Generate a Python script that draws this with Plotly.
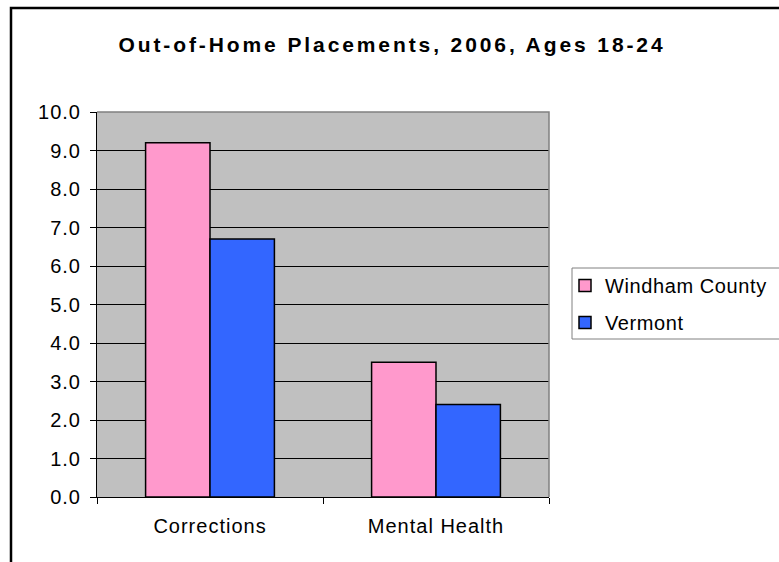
import plotly.graph_objects as go

# Out-of-home placements per 1,000, ages 18-24, 2006
categories = ["Corrections", "Mental Health"]
windham_county = [9.2, 3.5]
vermont = [6.7, 2.4]
y_ticks = [0, 1, 2, 3, 4, 5, 6, 7, 8, 9, 10]

W_FIG, H_FIG = 779, 562
L, R, T, B = 97, 549, 112, 497  # plot area in pixels
PW, PH = R - L, B - T


def px(x):
    return (x - L) / PW


def py(y):
    return (B - y) / PH


FONT = "Liberation Sans, Arial, Helvetica, sans-serif"

fig = go.Figure()
fig.add_trace(go.Bar(
    x=categories, y=windham_county, name="Windham County",
    marker=dict(color="#FF99CC", line=dict(color="black", width=1.5)),
    legendgroup="a",
))
fig.add_trace(go.Bar(
    x=categories, y=vermont, name="Vermont",
    marker=dict(color="#3366FF", line=dict(color="black", width=1.5)),
    legendgroup="b",
))

shapes = [
    # outer chart frame (runs past the right and bottom edges)
    dict(type="rect", xref="paper", yref="paper",
         x0=px(11), x1=px(800), y0=py(580), y1=py(8),
         line=dict(color="black", width=2.5), fillcolor="rgba(0,0,0,0)", layer="above"),
    # grey plot-area border on top and right
    dict(type="path", xref="paper", yref="paper",
         path=f"M {px(L)} {py(T)} L {px(R)} {py(T)} L {px(R)} {py(B)}",
         line=dict(color="#808080", width=1.5), layer="above"),
    # legend frame
    dict(type="rect", xref="paper", yref="paper",
         x0=px(572), x1=px(800), y0=py(339), y1=py(268),
         line=dict(color="#808080", width=1), fillcolor="white", layer="below"),
]

fig.update_layout(
    width=W_FIG, height=H_FIG,
    margin=dict(l=L, r=W_FIG - R, t=T, b=H_FIG - B, pad=0),
    paper_bgcolor="white", plot_bgcolor="#C0C0C0",
    font=dict(family=FONT, size=20, color="black"),
    title=dict(
        text="<b>Out-of-Home Placements, 2006, Ages 18-24</b>",
        x=392 / W_FIG, xanchor="center", xref="container",
        y=1 - 45 / H_FIG, yanchor="middle", yref="container",
        font=dict(family=FONT, size=21, color="black"),
    ),
    barmode="group", bargap=0.43, bargroupgap=0,
    showlegend=True,
    legend=dict(
        x=px(565), xanchor="left", y=py(266), yanchor="top",
        bgcolor="rgba(0,0,0,0)", borderwidth=0,
        font=dict(family=FONT, size=20),
        traceorder="grouped", tracegroupgap=8,
    ),
    shapes=shapes,
)

fig.update_xaxes(
    type="category", showline=True, linecolor="black", linewidth=1,
    ticks="outside", ticklen=6, tickcolor="black", tickwidth=1,
    tickson="boundaries", showgrid=False, ticklabelstandoff=11,
)
fig.update_yaxes(
    range=[0, 10], tickvals=y_ticks, tickformat=".1f",
    showline=True, linecolor="black", linewidth=1,
    ticks="outside", ticklen=6, tickcolor="black", tickwidth=1,
    showgrid=True, gridcolor="black", gridwidth=1, zeroline=False,
    ticklabelstandoff=5,
)

# wider tracking on the labels, as in the original Excel chart
post = """
var gd = document.getElementsByClassName('plotly-graph-div')[0];
function track(){
  gd.querySelectorAll('.gtitle').forEach(function(e){e.style.letterSpacing='2.9px';});
  gd.querySelectorAll('.xtick text, .ytick text').forEach(function(e){e.style.letterSpacing='1px';});
  gd.querySelectorAll('.legendtext').forEach(function(e){e.style.letterSpacing='0.6px';});
  gd.querySelectorAll('.legend .scrollbox, .legend').forEach(function(e){e.removeAttribute('clip-path');});
}
track();
gd.on('plotly_afterplot', track);
"""

fig.write_html("out.html", post_script=post)
